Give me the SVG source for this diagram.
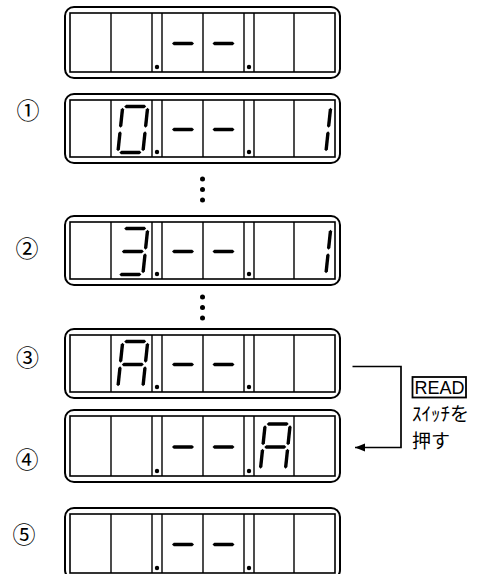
<svg xmlns="http://www.w3.org/2000/svg" xmlns:xlink="http://www.w3.org/1999/xlink" width="483" height="574" viewBox="0 0 483 574">
<style>
.outer{fill:none;stroke:#000;stroke-width:2}
.inner{fill:none;stroke:#000;stroke-width:1.6}
.div{fill:none;stroke:#000;stroke-width:1.4}
.dp{fill:#000}
.seg{fill:#000}
.lbl{font-family:"Noto Sans CJK JP","DejaVu Sans",sans-serif;font-size:23px;fill:#000;text-anchor:middle}
.conn{fill:none;stroke:#000;stroke-width:1.7}
.jp{font-family:"Noto Sans CJK JP",sans-serif;font-size:19px;fill:#000}
.read{font-family:"Liberation Sans",Arial,sans-serif;font-size:18.5px;fill:#000}
</style>
<defs>
<polygon id="h" class="seg" points="-11,0 -9.2,-1.8 9.2,-1.8 11,0 9.2,1.8 -9.2,1.8"/>
<polygon id="v" class="seg" points="0,-10 1.7,-8.3 1.7,8.3 0,10 -1.7,8.3 -1.7,-8.3"/>
<marker id="arr" markerUnits="userSpaceOnUse" markerWidth="12" markerHeight="10" refX="10" refY="4" orient="auto">
<polygon points="0,0 10,4 0,8" fill="#000"/>
</marker>
</defs>

<g id="display0">
<rect class="outer" x="65" y="7" width="275" height="71" rx="9"/>
<rect class="inner" x="70" y="13" width="265" height="59"/>
<path class="div" d="M111 13V72M152 13V72M162 13V72M203 13V72M244 13V72M254 13V72M294 13V72"/>
<circle class="dp" cx="157" cy="67" r="2.2"/><circle class="dp" cx="249" cy="67" r="2.2"/>
<use href="#h" x="183" y="43.5"/><use href="#h" x="223.5" y="43.5"/>
</g>

<g id="display1">
<text class="lbl" x="28" y="118.5">①</text>
<rect class="outer" x="65" y="94" width="275" height="69" rx="9"/>
<rect class="inner" x="70" y="100" width="265" height="57"/>
<path class="div" d="M111 100V157M152 100V157M162 100V157M203 100V157M244 100V157M254 100V157M294 100V157"/>
<circle class="dp" cx="157" cy="152" r="2.2"/><circle class="dp" cx="249" cy="152" r="2.2"/>
<use href="#h" x="183" y="129.5"/><use href="#h" x="223.5" y="129.5"/>
<g transform="translate(132.8 129.5) skewX(-6)">
<use href="#h" y="-23"/><use href="#h" y="23"/>
<use href="#v" x="-12.5" y="-11.8"/><use href="#v" x="12.5" y="-11.8"/>
<use href="#v" x="-12.5" y="11.8"/><use href="#v" x="12.5" y="11.8"/>
</g>
<g transform="translate(315.8 129.5) skewX(-6)">
<use href="#v" x="12.5" y="-11.8"/><use href="#v" x="12.5" y="11.8"/>
</g>
</g>

<g id="ellipsis1">
<circle class="dp" cx="202.5" cy="179" r="2.5"/><circle class="dp" cx="202.5" cy="189.5" r="2.5"/><circle class="dp" cx="202.5" cy="200" r="2.5"/>
</g>

<g id="display2">
<text class="lbl" x="27" y="256.5">②</text>
<rect class="outer" x="65" y="216" width="275" height="69" rx="9"/>
<rect class="inner" x="70" y="222" width="265" height="57"/>
<path class="div" d="M111 222V279M152 222V279M162 222V279M203 222V279M244 222V279M254 222V279M294 222V279"/>
<circle class="dp" cx="157" cy="274" r="2.2"/><circle class="dp" cx="249" cy="274" r="2.2"/>
<use href="#h" x="183" y="251.5"/><use href="#h" x="223.5" y="251.5"/>
<g transform="translate(132.8 251.5) skewX(-6)">
<use href="#h" y="-23"/><use href="#h" y="0"/><use href="#h" y="23"/>
<use href="#v" x="12.5" y="-11.8"/><use href="#v" x="12.5" y="11.8"/>
</g>
<g transform="translate(315.8 251.5) skewX(-6)">
<use href="#v" x="12.5" y="-11.8"/><use href="#v" x="12.5" y="11.8"/>
</g>
</g>

<g id="ellipsis2">
<circle class="dp" cx="202.5" cy="297" r="2.5"/><circle class="dp" cx="202.5" cy="307.5" r="2.5"/><circle class="dp" cx="202.5" cy="318" r="2.5"/>
</g>

<g id="display3">
<text class="lbl" x="27.5" y="365.5">③</text>
<rect class="outer" x="65" y="329" width="275" height="69" rx="9"/>
<rect class="inner" x="70" y="335" width="265" height="57"/>
<path class="div" d="M111 335V392M152 335V392M162 335V392M203 335V392M244 335V392M254 335V392M294 335V392"/>
<circle class="dp" cx="157" cy="387" r="2.2"/><circle class="dp" cx="249" cy="387" r="2.2"/>
<use href="#h" x="183" y="364.5"/><use href="#h" x="223.5" y="364.5"/>
<g transform="translate(132.8 364.5) skewX(-6)">
<use href="#h" y="-23"/><use href="#h" y="0"/>
<use href="#v" x="-12.5" y="-11.8"/><use href="#v" x="12.5" y="-11.8"/>
<use href="#v" x="-12.5" y="11.8"/><use href="#v" x="12.5" y="11.8"/>
</g>
</g>

<g id="display4">
<text class="lbl" x="27" y="467.5">④</text>
<rect class="outer" x="65" y="410" width="275" height="72" rx="9"/>
<rect class="inner" x="70" y="416" width="265" height="60"/>
<path class="div" d="M111 416V476M152 416V476M162 416V476M203 416V476M244 416V476M254 416V476M294 416V476"/>
<circle class="dp" cx="157" cy="471" r="2.2"/><circle class="dp" cx="249" cy="471" r="2.2"/>
<use href="#h" x="183" y="447"/><use href="#h" x="223.5" y="447"/>
<g transform="translate(275.3 447) skewX(-6)">
<use href="#h" y="-23"/><use href="#h" y="0"/>
<use href="#v" x="-12.5" y="-11.8"/><use href="#v" x="12.5" y="-11.8"/>
<use href="#v" x="-12.5" y="11.8"/><use href="#v" x="12.5" y="11.8"/>
</g>
</g>

<g id="display5">
<text class="lbl" x="24" y="542.5">⑤</text>
<rect class="outer" x="65" y="508" width="275" height="71" rx="9"/>
<rect class="inner" x="70" y="514" width="265" height="59"/>
<path class="div" d="M111 514V573M152 514V573M162 514V573M203 514V573M244 514V573M254 514V573M294 514V573"/>
<circle class="dp" cx="157" cy="568" r="2.2"/><circle class="dp" cx="249" cy="568" r="2.2"/>
<use href="#h" x="183" y="544.5"/><use href="#h" x="223.5" y="544.5"/>
</g>

<g id="connectors">
<path class="conn" d="M352.5 366.5H401V447.5H355" marker-end="url(#arr)"/>
</g>

<g id="readnote">
<rect x="412.5" y="377" width="53.5" height="20.5" fill="none" stroke="#000" stroke-width="1.8"/>
<text class="read" x="414.5" y="393.5" textLength="50" lengthAdjust="spacingAndGlyphs">READ</text>
<text class="jp" x="412" y="421">ｽｲｯﾁを</text>
<text class="jp" x="412" y="448">押す</text>
</g>
</svg>
